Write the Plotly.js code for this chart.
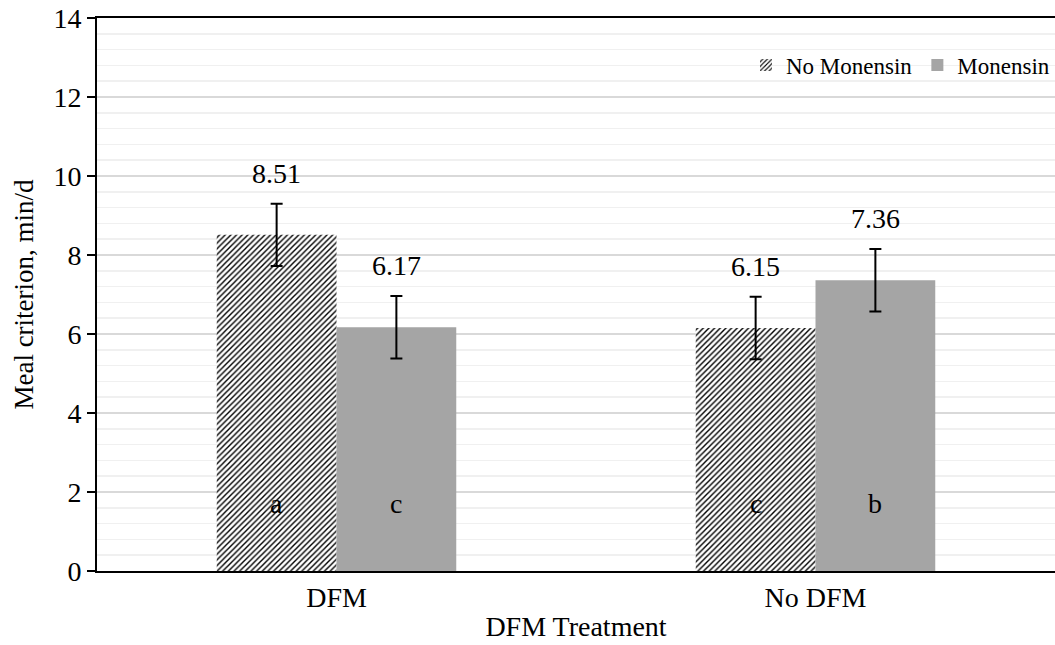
<!DOCTYPE html>
<html>
<head>
<meta charset="utf-8">
<script src="https://cdn.plot.ly/plotly-3.0.1.min.js"></script>
<style>html,body{margin:0;padding:0;background:#fff;}#chart{width:1055px;height:645px;}</style>
</head>
<body>
<div id="chart"></div>
<script>
const categories = ["DFM", "No DFM"];
const noMonensin = [8.51, 6.15];
const monensin = [6.17, 7.36];
const errNoMonensin = [0.79, 0.79];
const errMonensin = [0.79, 0.79];
const lettersNoMonensin = ["a", "c"];
const lettersMonensin = ["c", "b"];
const letterY = 1.72;

const font = "'Liberation Serif', 'Times New Roman', serif";

const traces = [
  {
    type: "bar", name: "No Monensin", x: categories, y: noMonensin,
    marker: {color: "#ffffff", line: {width: 0}, pattern: {shape: "/", fgcolor: "#000000", bgcolor: "#ffffff", size: 4, solidity: 0.35}},
    error_y: {type: "data", array: errNoMonensin, visible: true, color: "#000000", thickness: 2, width: 6}
  },
  {
    type: "bar", name: "Monensin", x: categories, y: monensin,
    marker: {color: "#a5a5a5", line: {width: 0}},
    error_y: {type: "data", array: errMonensin, visible: true, color: "#000000", thickness: 2, width: 6}
  }
];

const annotations = [];
const offs = [-0.125, 0.125];
[[noMonensin, errNoMonensin, lettersNoMonensin], [monensin, errMonensin, lettersMonensin]].forEach((s, si) => {
  categories.forEach((c, i) => {
    annotations.push({xref: "x", yref: "y", x: i + offs[si], y: s[0][i] + s[1][i], text: s[0][i].toFixed(2), showarrow: false, yanchor: "bottom", yshift: 13, font: {family: font, size: 28, color: "#000"}});
    annotations.push({xref: "x", yref: "y", x: i + offs[si], y: letterY, text: s[2][i], showarrow: false, yanchor: "middle", font: {family: font, size: 28, color: "#000"}});
  });
});

const layout = {
  width: 1055, height: 645,
  margin: {l: 97, r: 0, t: 18, b: 74},
  paper_bgcolor: "#fff", plot_bgcolor: "#fff",
  font: {family: font, size: 24, color: "#000"},
  barmode: "group", bargap: 0.5, bargroupgap: 0,
  showlegend: true,
  legend: {orientation: "h", x: 1, xanchor: "right", y: 0.915, yanchor: "middle", bgcolor: "rgba(0,0,0,0)", font: {family: font, size: 23}, traceorder: "normal", itemwidth: 30},
  xaxis: {
    type: "category", showline: true, linecolor: "#000", linewidth: 2, mirror: true, ticks: "",
    tickfont: {family: font, size: 28},
    title: {text: "DFM Treatment", font: {family: font, size: 28}, standoff: 5}
  },
  yaxis: {
    range: [0, 14], dtick: 2, showline: true, linecolor: "#000", linewidth: 2, ticks: "outside", ticklen: 8, tickwidth: 2, tickcolor: "#000",
    gridcolor: "#d9d9d9", gridwidth: 1.5, zeroline: false,
    minor: {dtick: 0.4, showgrid: true, gridcolor: "#f0f0f0", gridwidth: 1.5, ticks: ""},
    tickfont: {family: font, size: 28},
    title: {text: "Meal criterion, min/d", font: {family: font, size: 27}, standoff: 12}
  },
  annotations: annotations
};

Plotly.newPlot("chart", traces, layout, {displayModeBar: false, staticPlot: true});
</script>
</body>
</html>
